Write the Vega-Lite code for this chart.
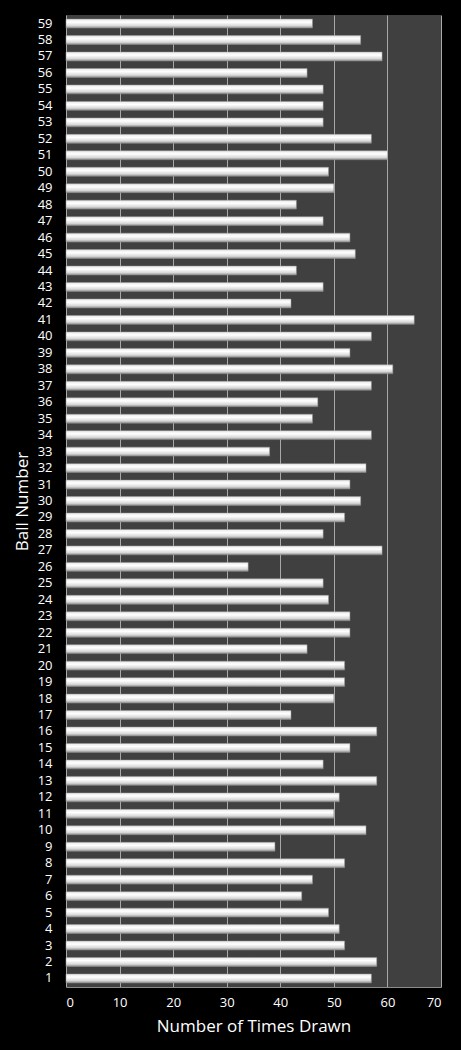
{
  "$schema": "https://vega.github.io/schema/vega-lite/v6.json",
  "description": "Ball draw frequency",
  "autosize": {"type": "none"},
  "padding": {"left": 66, "top": 15, "right": 20, "bottom": 63},
  "width": 375,
  "height": 972,
  "background": "#000000",
  "config": {
    "view": {"fill": "#404040", "stroke": null},
    "font": "Open Sans"
  },
  "data": {
    "values": [
      {"ball": 1, "drawn": 57}, {"ball": 2, "drawn": 58}, {"ball": 3, "drawn": 52},
      {"ball": 4, "drawn": 51}, {"ball": 5, "drawn": 49}, {"ball": 6, "drawn": 44},
      {"ball": 7, "drawn": 46}, {"ball": 8, "drawn": 52}, {"ball": 9, "drawn": 39},
      {"ball": 10, "drawn": 56}, {"ball": 11, "drawn": 50}, {"ball": 12, "drawn": 51},
      {"ball": 13, "drawn": 58}, {"ball": 14, "drawn": 48}, {"ball": 15, "drawn": 53},
      {"ball": 16, "drawn": 58}, {"ball": 17, "drawn": 42}, {"ball": 18, "drawn": 50},
      {"ball": 19, "drawn": 52}, {"ball": 20, "drawn": 52}, {"ball": 21, "drawn": 45},
      {"ball": 22, "drawn": 53}, {"ball": 23, "drawn": 53}, {"ball": 24, "drawn": 49},
      {"ball": 25, "drawn": 48}, {"ball": 26, "drawn": 34}, {"ball": 27, "drawn": 59},
      {"ball": 28, "drawn": 48}, {"ball": 29, "drawn": 52}, {"ball": 30, "drawn": 55},
      {"ball": 31, "drawn": 53}, {"ball": 32, "drawn": 56}, {"ball": 33, "drawn": 38},
      {"ball": 34, "drawn": 57}, {"ball": 35, "drawn": 46}, {"ball": 36, "drawn": 47},
      {"ball": 37, "drawn": 57}, {"ball": 38, "drawn": 61}, {"ball": 39, "drawn": 53},
      {"ball": 40, "drawn": 57}, {"ball": 41, "drawn": 65}, {"ball": 42, "drawn": 42},
      {"ball": 43, "drawn": 48}, {"ball": 44, "drawn": 43}, {"ball": 45, "drawn": 54},
      {"ball": 46, "drawn": 53}, {"ball": 47, "drawn": 48}, {"ball": 48, "drawn": 43},
      {"ball": 49, "drawn": 50}, {"ball": 50, "drawn": 49}, {"ball": 51, "drawn": 60},
      {"ball": 52, "drawn": 57}, {"ball": 53, "drawn": 48}, {"ball": 54, "drawn": 48},
      {"ball": 55, "drawn": 48}, {"ball": 56, "drawn": 45}, {"ball": 57, "drawn": 59},
      {"ball": 58, "drawn": 55}, {"ball": 59, "drawn": 46}
    ]
  },
  "mark": {
    "type": "bar",
    "stroke": "#9a9a9a",
    "strokeWidth": 0.5,
    "color": {
      "gradient": "linear",
      "x1": 0, "y1": 0, "x2": 0, "y2": 1,
      "stops": [
        {"offset": 0, "color": "#e8e8e8"},
        {"offset": 0.35, "color": "#ffffff"},
        {"offset": 0.75, "color": "#d8d8d8"},
        {"offset": 1, "color": "#8c8c8c"}
      ]
    }
  },
  "encoding": {
    "y": {
      "field": "ball",
      "type": "ordinal",
      "sort": "descending",
      "scale": {"paddingInner": 0.46, "paddingOuter": 0.25},
      "axis": {
        "title": "Ball Number",
        "titleColor": "#ffffff",
        "titleFontSize": 17,
        "titleFontWeight": "normal",
        "titlePadding": 6,
        "labelColor": "#ffffff",
        "labelFontSize": 13,
        "labelPadding": 14,
        "ticks": false,
        "domain": false
      }
    },
    "x": {
      "field": "drawn",
      "type": "quantitative",
      "scale": {"domain": [0, 70], "nice": false},
      "axis": {
        "title": "Number of Times Drawn",
        "titleColor": "#ffffff",
        "titleFontSize": 17,
        "titleFontWeight": "normal",
        "titlePadding": 9,
        "labelColor": "#ffffff",
        "labelFontSize": 13,
        "labelPadding": 9,
        "values": [0, 10, 20, 30, 40, 50, 60, 70],
        "grid": true,
        "gridColor": "#a8a8a8",
        "gridWidth": 1,
        "domainColor": "#8c8c8c",
        "ticks": false
      }
    }
  }
}
